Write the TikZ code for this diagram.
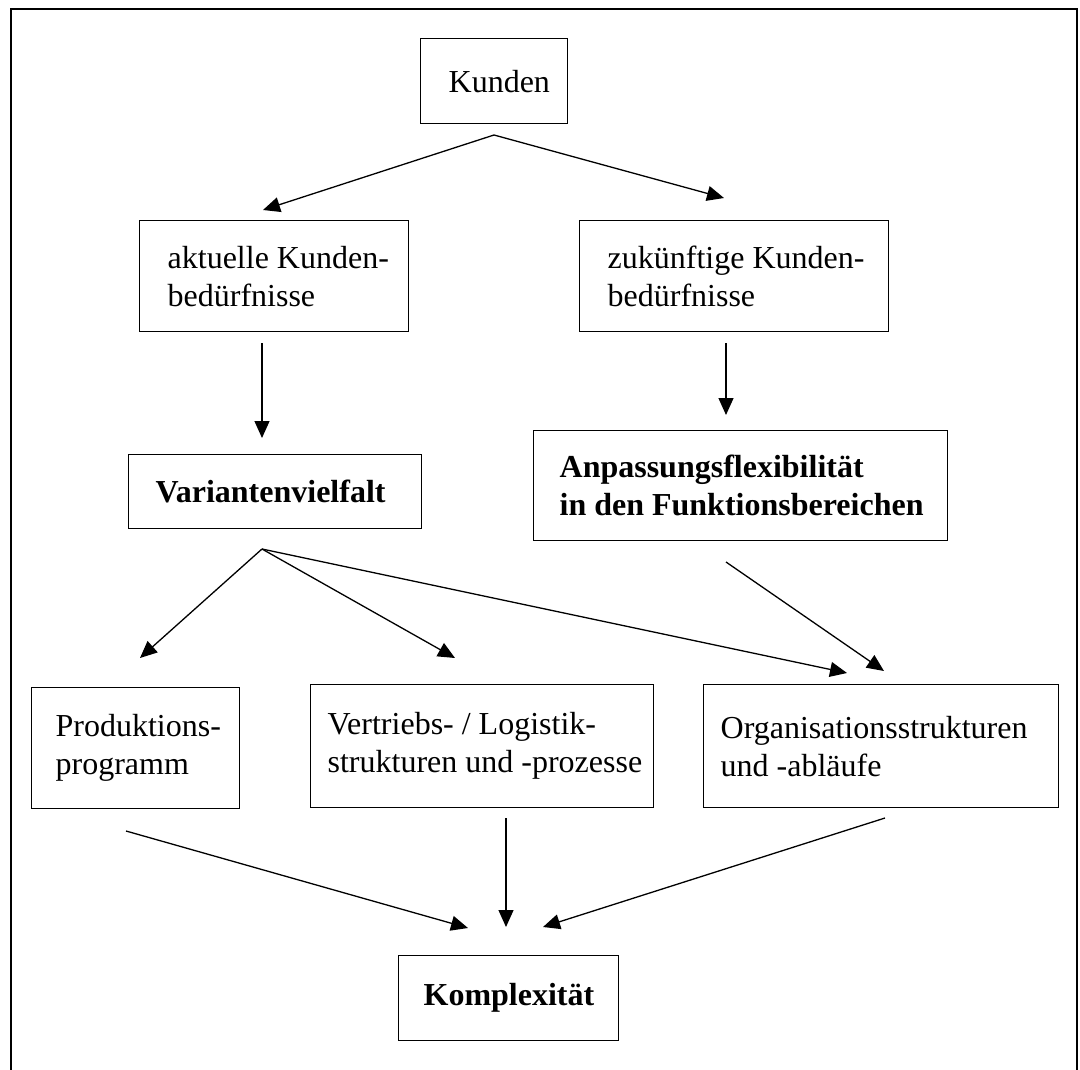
\documentclass[tikz,border=0pt]{standalone}
\usepackage{fontspec}
\setmainfont{Liberation Serif}
\usetikzlibrary{arrows.meta}
\newcommand\bxt[3]{\parbox{#1}{\leftskip=#2\relax\rightskip=0pt plus 1fil\relax\parfillskip=0pt plus 1fil\relax #3\par}}
\begin{document}
\begin{tikzpicture}[x=1pt,y=-1pt,
  box/.style={draw, line width=1.3pt, rectangle, anchor=north west, inner sep=0pt,
    font=\fontsize{32}{38}\selectfont},
  boldbox/.style={box, font=\fontsize{32}{38}\selectfont\bfseries},
  arr/.style={line width=1.3pt, -{Triangle[length=17pt,width=15pt]}},
  frameline/.style={line width=2.6pt}]
\useasboundingbox (0,0) rectangle (1080,1070);
% outer frame (open at the bottom)
\coordinate (fbl) at (11,1075);
\coordinate (ftl) at (11,9);
\coordinate (ftr) at (1077,9);
\coordinate (fbr) at (1077,1075);
\draw[frameline] (fbl) -- (ftl) -- (ftr) -- (fbr);

% boxes
\node[box, minimum width=147pt, minimum height=85pt] (kunden) at (420,38) {\bxt{147pt}{28pt}{Kunden}};
\node[box, minimum width=269pt, minimum height=111pt] (aktuell) at (139,220) {\bxt{269pt}{28pt}{aktuelle Kunden-\\bedürfnisse}};
\node[box, minimum width=309pt, minimum height=111pt] (zukunft) at (579,220) {\bxt{309pt}{28pt}{zukünftige Kunden-\\bedürfnisse}};
\node[boldbox, minimum width=293pt, minimum height=74pt] (variant) at (128,454) {\bxt{293pt}{27pt}{Variantenvielfalt}};
\node[boldbox, minimum width=414pt, minimum height=110pt] (anpass) at (533,430) {\bxt{414pt}{26pt}{Anpassungsflexibilität\\in den Funktionsbereichen}};
\node[box, minimum width=208pt, minimum height=121pt] (prod) at (31,687) {\bxt{208pt}{24pt}{Produktions-\\programm}};
\node[box, minimum width=343pt, minimum height=123pt] (vertr) at (310,684) {\bxt{343pt}{17pt}{Vertriebs- / Logistik-\\strukturen und -prozesse}};
\node[box, minimum width=355pt, minimum height=123pt] (org) at (703,684) {\bxt{355pt}{17pt}{Organisationsstrukturen\\und -abläufe}};
\node[boldbox, minimum width=220pt, minimum height=85pt] (komplex) at (398,955) {\bxt{220pt}{25pt}{Komplexität}};

% connector end points
\coordinate (kApex) at (494,135);
\coordinate (kL) at (263,210);
\coordinate (kR) at (724,198);
\coordinate (aS) at (262,343);
\coordinate (aE) at (262,438);
\coordinate (zS) at (726,343);
\coordinate (zE) at (726,415);
\coordinate (vApex) at (262,549);
\coordinate (vP) at (140,658);
\coordinate (vV) at (455,658);
\coordinate (vO) at (847,673);
\coordinate (anS) at (726,562);
\coordinate (anE) at (884,671);
\coordinate (pS) at (126,831);
\coordinate (pE) at (468,928);
\coordinate (trS) at (506,818);
\coordinate (trE) at (506,927);
\coordinate (oS) at (885,818);
\coordinate (oE) at (543,927);

% connectors
\draw[arr] (kApex) -- (kL);
\draw[arr] (kApex) -- (kR);
\draw[arr] (aS) -- (aE);
\draw[arr] (zS) -- (zE);
\draw[arr] (vApex) -- (vP);
\draw[arr] (vApex) -- (vV);
\draw[arr] (vApex) -- (vO);
\draw[arr] (anS) -- (anE);
\draw[arr] (pS) -- (pE);
\draw[arr] (trS) -- (trE);
\draw[arr] (oS) -- (oE);
\end{tikzpicture}
\end{document}
